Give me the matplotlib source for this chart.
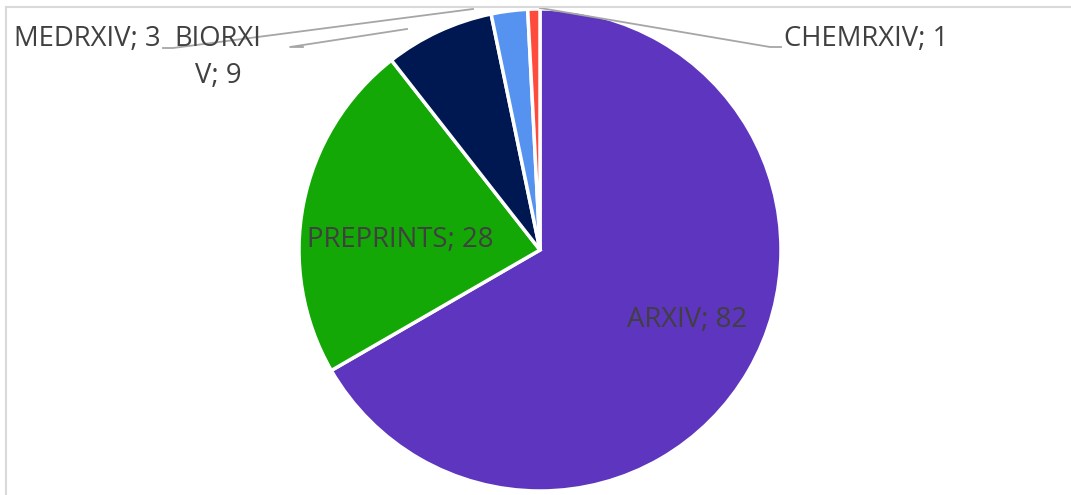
import matplotlib.pyplot as plt
from matplotlib.lines import Line2D

categorias = ["ARXIV", "PREPRINTS", "BIORXIV", "MEDRXIV", "CHEMRXIV"]
valores = [82, 28, 9, 3, 1]
cores = ["#5E35BE", "#14A807", "#001852", "#5693F0", "#FF4B3E"]

W, H = 1071, 495
fig = plt.figure(figsize=(W / 100, H / 100), dpi=100)
ax = fig.add_axes([0, 0, 1, 1])

wedges, _ = ax.pie(valores, colors=cores, startangle=90, counterclock=False,
                   center=(540, H - 250), radius=241,
                   wedgeprops=dict(edgecolor="white", linewidth=2.5))
ax.set_xlim(0, W)
ax.set_ylim(0, H)
ax.set_aspect("equal")
ax.axis("off")

fonte = dict(family=["Open Sans", "DejaVu Sans"], fontsize=19.8, color="#404040")

def y(p):
    return H - p

# rótulos dentro das fatias grandes
ax.text(627, y(320), f"{categorias[0]}; {valores[0]}", ha="left", va="center", **fonte)
ax.text(307, y(240), f"{categorias[1]}; {valores[1]}", ha="left", va="center", **fonte)

# rótulos de fora com linhas de chamada
linha = dict(color="#A6A6A6", linewidth=1.3)
ax.plot([303, 290, 407], [y(47), y(47), y(29)], **linha)
ax.text(218, y(39), "BIORXI", ha="center", va="center", **fonte)
ax.text(218, y(76), f"V; {valores[2]}", ha="center", va="center", **fonte)

ax.plot([163, 173, 473], [y(48), y(48), y(9)], **linha)
ax.text(14, y(39), f"{categorias[3]}; {valores[3]}", ha="left", va="center", **fonte)

ax.plot([540, 770, 781], [y(8), y(47), y(47)], **linha)
ax.text(784, y(39), f"{categorias[4]}; {valores[4]}", ha="left", va="center", **fonte)

# borda do gráfico
fig.add_artist(Line2D([5.5 / W, 5.5 / W], [0, 1 - 6.5 / H], transform=fig.transFigure,
                      color="#D9D9D9", linewidth=1.5))
fig.add_artist(Line2D([5.5 / W, 1], [1 - 6.5 / H, 1 - 6.5 / H], transform=fig.transFigure,
                      color="#D9D9D9", linewidth=1.5))

fig.savefig("out.png", dpi=100, facecolor="white")
